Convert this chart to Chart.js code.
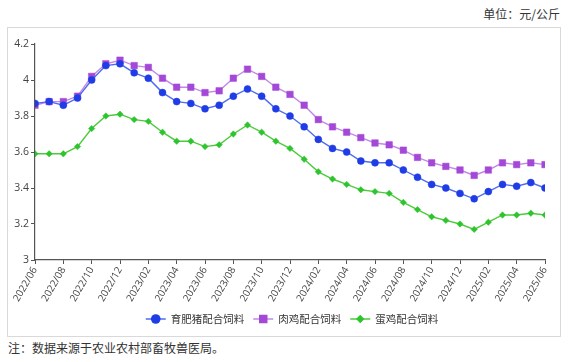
<!DOCTYPE html>
<html><head><meta charset="utf-8">
<script src="https://cdn.jsdelivr.net/npm/chart.js@4.4.1/dist/chart.umd.min.js"></script>
<style>
html,body{margin:0;padding:0;background:#fff;width:572px;height:362px;overflow:hidden;}
#box{position:absolute;left:7px;top:27px;width:552px;height:308px;border:1px solid #d9d9d9;}
#c{position:absolute;left:0;top:0;}
.t{position:absolute;font-family:"Noto Sans CJK SC",sans-serif;color:#333;white-space:nowrap;}
</style></head><body>
<div id="box"></div>
<div class="t" id="unit" style="right:12px;top:5px;font-size:12px;">单位：元/公斤</div>
<div class="t" id="note" style="left:8px;top:339px;font-size:12px;">注：数据来源于农业农村部畜牧兽医局。</div>
<canvas id="c" width="572" height="362"></canvas>
<script>
const months = ['2022/06','2022/07','2022/08','2022/09','2022/10','2022/11','2022/12',
'2023/01','2023/02','2023/03','2023/04','2023/05','2023/06','2023/07','2023/08','2023/09','2023/10','2023/11','2023/12',
'2024/01','2024/02','2024/03','2024/04','2024/05','2024/06','2024/07','2024/08','2024/09','2024/10','2024/11','2024/12',
'2025/01','2025/02','2025/03','2025/04','2025/05','2025/06'];
const seriesNames = ['育肥猪配合饲料','肉鸡配合饲料','蛋鸡配合饲料'];
const pig = [3.87,3.88,3.86,3.90,4.00,4.08,4.09,4.04,4.01,3.93,3.88,3.87,
3.84,3.86,3.91,3.95,3.91,3.84,3.80,3.74,3.67,3.62,3.60,3.55,3.54,
3.54,3.50,3.46,3.42,3.40,3.37,3.34,3.38,3.42,3.41,3.43,3.40];
const broiler = [3.86,3.88,3.88,3.91,4.02,4.09,4.11,4.08,4.07,4.01,3.96,3.96,
3.93,3.94,4.01,4.06,4.02,3.96,3.92,3.86,3.78,3.74,3.71,3.68,3.65,
3.64,3.61,3.57,3.54,3.52,3.50,3.47,3.50,3.54,3.53,3.54,3.53];
const layer = [3.59,3.59,3.59,3.63,3.73,3.80,3.81,3.78,3.77,3.71,3.66,3.66,
3.63,3.64,3.70,3.75,3.71,3.66,3.62,3.56,3.49,3.45,3.42,3.39,3.38,
3.37,3.32,3.28,3.24,3.22,3.20,3.17,3.21,3.25,3.25,3.26,3.25];
const yTickLabels = ['3','3.2','3.4','3.6','3.8','4','4.2'];

const styles = [
  {line:'#4d6cf0', pt:'#1f3ce6', ps:'circle', r:3.5},
  {line:'#c388e6', pt:'#a448d8', ps:'rect', r:4.6},
  {line:'#4ccb3a', pt:'#2ec42e', ps:'rectRot', r:3.2}
];
const toXY = arr => arr.map((v,i)=>({x:i,y:v}));
const datasets = [pig, broiler, layer].map((arr,k)=>({
  label: seriesNames[k],
  data: toXY(arr),
  borderColor: styles[k].line,
  backgroundColor: styles[k].pt,
  pointBackgroundColor: styles[k].pt,
  pointBorderColor: styles[k].pt,
  pointBorderWidth: 0.5,
  pointStyle: styles[k].ps,
  pointRadius: styles[k].r,
  borderWidth: 1.4,
  tension: 0
}));

function drawMarker(ctx, s, x, y){
  ctx.save();
  ctx.fillStyle = s.pt;
  ctx.beginPath();
  if (s.ps==='circle'){ ctx.arc(x,y,s.r+1.3,0,Math.PI*2); }
  else if (s.ps==='rect'){ const h=Math.SQRT1_2*s.r+1; ctx.rect(x-h,y-h,2*h,2*h); }
  else { const r=s.r+1; ctx.moveTo(x,y-r);ctx.lineTo(x+r,y);ctx.lineTo(x,y+r);ctx.lineTo(x-r,y);ctx.closePath(); }
  ctx.fill();
  ctx.restore();
}

const legendPlugin = {
  id:'customLegend',
  afterDraw(chart){
    const ctx = chart.ctx;
    ctx.save();
    ctx.font = '10.5px "Noto Sans CJK SC", sans-serif';
    ctx.textBaseline = 'middle';
    const lineW = 20, gap1 = 5, gap2 = 9;
    const items = chart.data.datasets.map((d,k)=>({label:d.label, s:styles[k], w: lineW+gap1+ctx.measureText(d.label).width}));
    const total = items.reduce((a,b)=>a+b.w,0) + gap2*(items.length-1);
    let x = (chart.chartArea.left + chart.chartArea.right)/2 - total/2 + 2;
    const y = 319;
    items.forEach(it=>{
      ctx.strokeStyle = it.s.line; ctx.lineWidth = 1.5;
      ctx.beginPath(); ctx.moveTo(x,y); ctx.lineTo(x+lineW,y); ctx.stroke();
      drawMarker(ctx, it.s, x+lineW/2, y);
      ctx.fillStyle = '#333';
      ctx.fillText(it.label, x+lineW+gap1, y+0.5);
      x += it.w + gap2;
    });
    ctx.restore();
  }
};

new Chart(document.getElementById('c'), {
  type:'line',
  data:{datasets},
  options:{
    responsive:false,
    animation:false,
    layout:{padding:{left:0,right:27,top:44,bottom:42}},
    plugins:{legend:{display:false}, tooltip:{enabled:false}},
    scales:{
      x:{
        type:'linear', min:0, max:months.length-1,
        afterFit(s){ s.height = 60; },
        grid:{drawOnChartArea:false, drawTicks:true, tickLength:4, color:'#555'},
        border:{display:true, color:'#555', width:1.2},
        ticks:{stepSize:2, autoSkip:false, minRotation:60, maxRotation:60, padding:1,
          color:'#444', font:{family:'"Open Sans", sans-serif', size:10},
          callback:(v)=> months[v]}
      },
      y:{
        min:3, max:4.2,
        afterFit(s){ s.width = 35; },
        grid:{drawOnChartArea:false, drawTicks:true, tickLength:4, color:'#555'},
        border:{display:true, color:'#555', width:1.2},
        ticks:{stepSize:0.2, padding:2, color:'#444', font:{family:'"Open Sans", sans-serif', size:10.5},
          callback:(v)=>{ const i = Math.round((v-3)/0.2); return yTickLabels[i]; }}
      }
    }
  },
  plugins:[legendPlugin]
});
</script>
</body></html>
